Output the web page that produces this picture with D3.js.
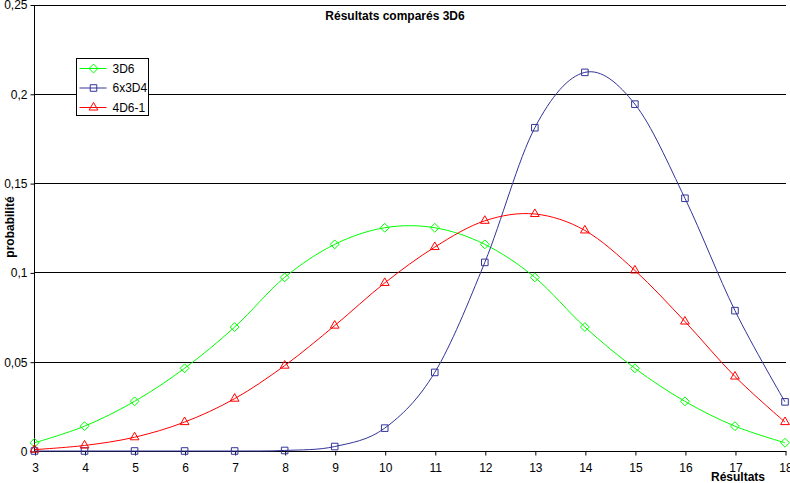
<!doctype html>
<html lang="fr">
<head>
<meta charset="UTF-8">
<title>Résultats comparés 3D6</title>
<script src="https://d3js.org/d3.v7.min.js"></script>
<style>
    body { margin: 0; background: #fff; }
    svg { display: block; }
    text { font-family: "Liberation Sans", Arial, sans-serif; font-size: 12px; fill: #000; }
    .bold { font-weight: bold; }
</style>
</head>
<body>
<svg width="790" height="483"></svg>
<script>
    const results = [3, 4, 5, 6, 7, 8, 9, 10, 11, 12, 13, 14, 15, 16, 17, 18];
    const p3D6 = [0.0046, 0.0139, 0.0278, 0.0463, 0.0694, 0.0972, 0.1157, 0.125,
        0.125, 0.1157, 0.0972, 0.0694, 0.0463, 0.0278, 0.0139, 0.0046];
    const p6x3D4 = [0, 0, 0, 0, 0, 0.0003, 0.0025, 0.0128,
        0.044, 0.1056, 0.181, 0.212, 0.1942, 0.1415, 0.0786, 0.0275];
    const p4D6 = [0.0008, 0.0031, 0.0077, 0.0162, 0.0293, 0.0478, 0.0702, 0.0941,
        0.1142, 0.1289, 0.1327, 0.1235, 0.1011, 0.0725, 0.0417, 0.0162];
    const yTicks = [0, 0.05, 0.1, 0.15, 0.2, 0.25];

    const series = [
        { name: '3D6', values: p3D6, color: '#00ff00', marker: 'diamond' },
        { name: '6x3D4', values: p6x3D4, color: '#333399', marker: 'square' },
        { name: '4D6-1', values: p4D6, color: '#ff0000', marker: 'triangle' }
    ];

    const svg = d3.select('svg');

    const x = d3.scaleLinear().domain([3, 18]).range([34.5, 785]);
    const y = d3.scaleLinear().domain([0, 0.25]).range([451, 4.5]);
    const fmt = (d) => String(d).replace('.', ',');

    // gridlines
    svg.append('g')
        .selectAll('line')
        .data(yTicks.filter((d) => d > 0))
        .enter()
        .append('line')
        .attr('x1', 34.5).attr('x2', 786)
        .attr('y1', (d) => Math.round(y(d)) + 0.5)
        .attr('y2', (d) => Math.round(y(d)) + 0.5)
        .attr('stroke', '#000');

    // y axis
    const yAxis = svg.append('g')
        .attr('transform', 'translate(34.5,0.5)')
        .call(d3.axisLeft(y).tickValues(yTicks).tickFormat(fmt).tickSize(4).tickPadding(3));
    yAxis.select('.domain').attr('d', `M0,${y(0.25)}V${y(0)}`);

    // x axis
    const xAxis = svg.append('g')
        .attr('transform', `translate(0.5,${Math.round(y(0)) + 0.5})`)
        .call(d3.axisBottom(x).tickValues(results).tickFormat(d3.format('d')).tickSize(4).tickPadding(8));
    xAxis.select('.domain').attr('d', `M${x(3)},0H786`);
    svg.selectAll('.tick text').style('font-size', '12px').attr('font-family', null);

    const symbol = {
        diamond: d3.symbol().type(d3.symbolDiamond2).size(50),
        square: d3.symbol().type(d3.symbolSquare2).size(55),
        triangle: d3.symbol().type(d3.symbolTriangle2).size(55)
    };

    const line = d3.line()
        .x((d, i) => x(results[i]))
        .y((d) => y(d))
        .curve(d3.curveCatmullRom.alpha(0));

    series.forEach((s) => {
        svg.append('path')
            .attr('d', line(s.values))
            .attr('fill', 'none')
            .attr('stroke', s.color)
            .attr('stroke-width', 1);
        svg.append('g')
            .selectAll('path')
            .data(s.values)
            .enter()
            .append('path')
            .attr('transform', (d, i) => `translate(${x(results[i])},${y(d)})`)
            .attr('d', symbol[s.marker])
            .attr('fill', 'none')
            .attr('stroke', s.color);
    });

    // title and axis titles
    svg.append('text').attr('class', 'bold')
        .attr('x', 395).attr('y', 20).attr('text-anchor', 'middle')
        .text('Résultats comparés 3D6');
    svg.append('text').attr('class', 'bold')
        .attr('transform', 'translate(14,227) rotate(-90)')
        .attr('text-anchor', 'middle')
        .text('probabilité');
    svg.append('text').attr('class', 'bold')
        .attr('x', 738).attr('y', 481).attr('text-anchor', 'middle')
        .text('Résultats');

    // legend
    const legend = svg.append('g').attr('transform', 'translate(76.5,58.5)');
    legend.append('rect')
        .attr('width', 72).attr('height', 57)
        .attr('fill', '#fff').attr('stroke', '#000');
    series.forEach((s, i) => {
        const ly = 10 + i * 19.5;
        legend.append('line')
            .attr('x1', 3).attr('x2', 30).attr('y1', ly).attr('y2', ly)
            .attr('stroke', s.color);
        legend.append('path')
            .attr('transform', `translate(17,${ly})`)
            .attr('d', symbol[s.marker])
            .attr('fill', 'none')
            .attr('stroke', s.color);
        legend.append('text')
            .attr('x', 36).attr('y', ly + 4)
            .text(s.name);
    });
</script>
</body>
</html>
